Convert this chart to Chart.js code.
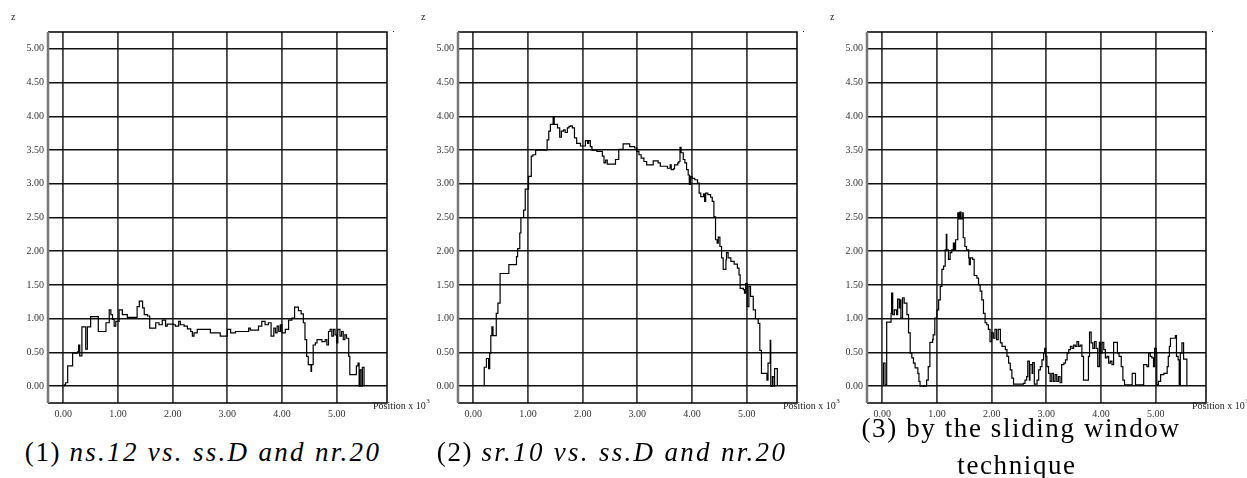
<!DOCTYPE html>
<html>
<head>
<meta charset="utf-8">
<script src="https://cdn.jsdelivr.net/npm/chart.js@4.4.1/dist/chart.umd.min.js"></script>
<style>
  body { margin: 0; background: #fff; width: 1247px; height: 478px; overflow: hidden; position: relative; }
  canvas { position: absolute; top: 0; }
  .cap { position: absolute; font-family: "Liberation Serif", serif; font-size: 27px; line-height: 27px;
         color: #000; white-space: nowrap; text-align: center; letter-spacing: 1.6px; }
  .cap i { letter-spacing: 2.3px; }
</style>
</head>
<body>
<canvas id="c1" width="450" height="430" style="left:0px"></canvas>
<canvas id="c2" width="450" height="430" style="left:410px"></canvas>
<canvas id="c3" width="450" height="430" style="left:819px"></canvas>

<div class="cap" style="left:3px;width:400px;top:439px">(1) <i>ns.12 vs. ss.D and nr.20</i></div>
<div class="cap" style="left:412px;width:400px;top:439px">(2) <i>sr.10 vs. ss.D and nr.20</i></div>
<div class="cap" style="left:821px;width:400px;top:415px">(3) by the sliding window</div>
<div class="cap" style="left:817px;width:400px;top:452px">technique</div>

<script>
// tick values
const xTicks = [0, 1, 2, 3, 4, 5];
const yTicks = [0, 0.5, 1, 1.5, 2, 2.5, 3, 3.5, 4, 4.5, 5];

// (1) ns.12 vs. ss.D and nr.20
const posA = [0.02, 0.02, 0.04, 0.08, 0.17, 0.26, 0.28, 0.30, 0.34, 0.41, 0.44, 0.50, 0.64, 0.78, 0.84, 0.87, 0.90, 0.93, 0.96,
  1.02, 1.08, 1.17, 1.35, 1.39, 1.45, 1.48, 1.54, 1.58, 1.69, 1.75, 1.81, 1.87, 1.90, 2.02, 2.05, 2.11, 2.14, 2.21, 2.27,
  2.33, 2.36, 2.39, 2.45, 2.69, 2.87, 3.00, 3.06, 3.15, 3.39, 3.42, 3.57, 3.63, 3.69, 3.75, 3.80, 3.85, 3.88, 3.91, 3.94,
  3.97, 4.00, 4.06, 4.12, 4.18, 4.23, 4.30, 4.35, 4.39, 4.42, 4.45, 4.48, 4.53, 4.54, 4.57, 4.61, 4.64, 4.73, 4.79, 4.82,
  4.85, 4.88, 4.91, 4.94, 4.97, 5.00, 5.02, 5.06, 5.09, 5.12, 5.15, 5.18, 5.22, 5.24, 5.36, 5.39, 5.41, 5.43, 5.46, 5.47, 5.50];
const zA = [0, 0.02, 0.05, 0.30, 0.49, 0.51, 0.61, 0.45, 0.88, 0.55, 0.88, 1.03, 0.81, 0.94, 1.13, 1.06, 0.99, 0.89, 0.96,
  1.13, 1.06, 1.02, 1.18, 1.26, 1.16, 1.06, 1.04, 0.86, 0.94, 0.91, 0.98, 0.89, 0.92, 0.91, 0.89, 0.96, 0.91, 0.89, 0.85,
  0.81, 0.74, 0.79, 0.84, 0.79, 0.74, 0.84, 0.79, 0.81, 0.86, 0.83, 0.89, 0.96, 0.91, 0.94, 0.74, 0.86, 0.79, 0.89, 0.81,
  0.91, 0.79, 0.84, 0.98, 1.01, 1.17, 1.12, 1.07, 0.94, 0.69, 0.44, 0.32, 0.22, 0.32, 0.61, 0.64, 0.69, 0.66, 0.69, 0.61,
  0.81, 0.84, 0.74, 0.84, 0.76, 0.64, 0.84, 0.74, 0.81, 0.69, 0.76, 0.71, 0.44, 0.17, 0.30, 0.34, 0, 0.24, 0, 0.28, 0];

// (2) sr.10 vs. ss.D and nr.20
const posB = [0.20, 0.20, 0.24, 0.28, 0.30, 0.32, 0.34, 0.36, 0.42, 0.45, 0.49, 0.65, 0.79, 0.81, 0.85, 0.87, 0.92, 0.95,
  1.01, 1.06, 1.09, 1.14, 1.35, 1.38, 1.41, 1.46, 1.48, 1.54, 1.58, 1.61, 1.65, 1.68, 1.72, 1.75, 1.78, 1.81, 1.85, 1.89,
  1.96, 2.05, 2.09, 2.11, 2.14, 2.17, 2.26, 2.36, 2.39, 2.42, 2.45, 2.60, 2.66, 2.74, 2.86, 2.95, 2.99, 3.03, 3.07, 3.12,
  3.17, 3.29, 3.38, 3.42, 3.55, 3.60, 3.62, 3.66, 3.68, 3.74, 3.76, 3.78, 3.80, 3.84, 3.87, 3.90, 3.93, 3.95, 3.97, 4.00,
  4.05, 4.10, 4.13, 4.16, 4.21, 4.23, 4.25, 4.29, 4.34, 4.37, 4.40, 4.43, 4.46, 4.48, 4.51, 4.54, 4.57, 4.62, 4.63, 4.66,
  4.71, 4.77, 4.83, 4.86, 4.88, 4.94, 4.96, 4.98, 5.01, 5.04, 5.07, 5.12, 5.16, 5.21, 5.24, 5.27, 5.37, 5.39, 5.43, 5.44,
  5.47, 5.50, 5.51, 5.56];
const zB = [0, 0.28, 0.41, 0.26, 0.49, 0.75, 0.88, 0.75, 1.08, 1.23, 1.67, 1.80, 1.92, 2.04, 2.27, 2.50, 2.61, 2.92,
  3.11, 3.41, 3.43, 3.50, 3.65, 3.78, 3.88, 3.98, 3.88, 3.83, 3.69, 3.78, 3.80, 3.76, 3.83, 3.85, 3.86, 3.83, 3.68, 3.60,
  3.56, 3.64, 3.60, 3.64, 3.55, 3.50, 3.48, 3.41, 3.31, 3.35, 3.29, 3.36, 3.51, 3.59, 3.55, 3.53, 3.48, 3.43, 3.38, 3.33,
  3.28, 3.34, 3.31, 3.26, 3.23, 3.28, 3.21, 3.22, 3.28, 3.31, 3.33, 3.54, 3.46, 3.36, 3.31, 3.21, 3.13, 2.99, 3.11, 3.08,
  3.06, 3.01, 2.86, 2.81, 2.85, 2.74, 2.86, 2.84, 2.80, 2.74, 2.51, 2.17, 2.12, 2.21, 2.07, 1.90, 1.73, 1.87, 1.98, 1.90,
  1.85, 1.81, 1.75, 1.65, 1.45, 1.43, 1.38, 1.52, 1.18, 1.48, 1.33, 1.13, 1.00, 0.93, 0.53, 0.19, 0.09, 0.34, 0.68, 0,
  0.14, 0, 0.26, 0];

// (3) by the sliding window technique
const posC = [0.02, 0.02, 0.05, 0.08, 0.16, 0.17, 0.19, 0.22, 0.26, 0.28, 0.31, 0.32, 0.34, 0.37, 0.40, 0.45, 0.48, 0.51,
  0.54, 0.57, 0.60, 0.65, 0.67, 0.69, 0.81, 0.84, 0.87, 0.92, 0.93, 0.96, 1.00, 1.03, 1.06, 1.09, 1.12, 1.15, 1.17, 1.18,
  1.21, 1.24, 1.27, 1.30, 1.32, 1.34, 1.38, 1.40, 1.42, 1.44, 1.47, 1.48, 1.51, 1.54, 1.58, 1.59, 1.61, 1.65, 1.68, 1.73,
  1.76, 1.79, 1.82, 1.85, 1.88, 1.91, 1.94, 1.97, 2.00, 2.03, 2.06, 2.09, 2.12, 2.16, 2.19, 2.25, 2.28, 2.31, 2.34, 2.37,
  2.40, 2.58, 2.61, 2.64, 2.66, 2.69, 2.70, 2.74, 2.75, 2.78, 2.83, 2.86, 2.89, 2.92, 2.95, 2.97, 2.99, 3.01, 3.04, 3.07,
  3.10, 3.13, 3.16, 3.19, 3.22, 3.25, 3.28, 3.32, 3.35, 3.38, 3.41, 3.44, 3.47, 3.50, 3.53, 3.56, 3.59, 3.62, 3.65, 3.68,
  3.77, 3.79, 3.82, 3.85, 3.88, 3.91, 3.94, 3.97, 3.99, 4.02, 4.05, 4.08, 4.11, 4.14, 4.17, 4.20, 4.23, 4.30, 4.33, 4.37,
  4.40, 4.43, 4.57, 4.63, 4.78, 4.84, 4.87, 4.90, 4.93, 4.96, 4.98, 5.01, 5.02, 5.05, 5.09, 5.15, 5.21, 5.23, 5.25, 5.27,
  5.36, 5.38, 5.41, 5.43, 5.45, 5.48, 5.51, 5.57];
const zC = [0, 0.34, 0.02, 0.95, 1.08, 1.38, 1.06, 1.13, 1.06, 1.29, 1.16, 1.28, 1.01, 1.31, 1.23, 1.06, 0.79, 0.49,
  0.42, 0.34, 0.27, 0.19, 0.07, 0, 0.09, 0.29, 0.65, 0.69, 0.76, 1.01, 1.13, 1.28, 1.48, 1.73, 1.78, 2.02, 2.25, 2.02,
  1.88, 1.98, 2.02, 2.12, 2.02, 2.17, 2.57, 2.48, 2.58, 2.48, 2.57, 2.20, 2.07, 2.02, 1.90, 1.80, 1.90, 1.88, 1.64, 1.60,
  1.50, 1.41, 1.28, 1.08, 0.94, 0.91, 0.84, 0.66, 0.79, 0.71, 0.84, 0.69, 0.84, 0.64, 0.59, 0.54, 0.44, 0.34, 0.24, 0.12,
  0.03, 0.04, 0.09, 0.14, 0.37, 0.09, 0.32, 0.19, 0.35, 0.03, 0.09, 0.24, 0.29, 0.39, 0.49, 0.56, 0.44, 0.29, 0.19, 0.07,
  0.19, 0.07, 0.17, 0.07, 0.14, 0.05, 0.32, 0.34, 0.39, 0.49, 0.54, 0.59, 0.56, 0.61, 0.59, 0.66, 0.59, 0.61, 0.44, 0.09,
  0.44, 0.80, 0.64, 0.56, 0.66, 0.56, 0.29, 0.65, 0.49, 0.65, 0.54, 0.42, 0.44, 0.34, 0.37, 0.32, 0.65, 0.49, 0.44, 0.29,
  0.09, 0.02, 0.19, 0.02, 0.32, 0.29, 0.49, 0.44, 0.42, 0.29, 0.56, 0.49, 0.02, 0.07, 0.17, 0.19, 0.29, 0.44, 0.59, 0.71,
  0.75, 0.44, 0.39, 0.02, 0.49, 0.64, 0.40, 0];

const serif = '"Liberation Serif", "Times New Roman", serif';

// frame, "z" label, "Position x 10^3"
const decor = {
  id: 'decor',
  beforeDatasetsDraw(chart) {
    const { ctx, chartArea: a } = chart;
    ctx.save();
    ctx.strokeStyle = '#000';
    ctx.lineWidth = 1.5;
    ctx.beginPath();
    ctx.moveTo(a.left, a.top); ctx.lineTo(a.right, a.top); ctx.lineTo(a.right, a.bottom); ctx.lineTo(a.left, a.bottom);
    ctx.stroke();
    ctx.strokeStyle = '#777';
    ctx.lineWidth = 2.5;
    ctx.beginPath();
    ctx.moveTo(a.left, a.top); ctx.lineTo(a.left, a.bottom);
    ctx.stroke();
    ctx.restore();
  },
  afterDraw(chart) {
    const { ctx, chartArea: a } = chart;
    ctx.save();
    ctx.fillStyle = '#222';
    ctx.font = '10px ' + serif;
    ctx.textBaseline = 'middle';
    ctx.fillText('z', a.left - 37, 17);
    ctx.textBaseline = 'alphabetic';
    ctx.fillText('Position x 10', a.right - 14, a.bottom + 6);
    const w = ctx.measureText('Position x 10').width;
    ctx.font = '7px ' + serif;
    ctx.fillText('3', a.right - 14 + w + 0.5, a.bottom);
    ctx.fillRect(a.right + 6, a.top - 1, 1, 1);
    ctx.restore();
  }
};

function panel(id, pos, z) {
  const pts = pos.map((p, i) => ({ x: p, y: z[i] }));
  new Chart(document.getElementById(id), {
    type: 'line',
    data: { datasets: [{ data: pts, stepped: true, borderColor: '#000', borderWidth: 1.2, pointRadius: 0, fill: false }] },
    options: {
      responsive: false,
      animation: false,
      layout: { padding: { top: 32, right: 63, left: 0, bottom: 0 } },
      plugins: { legend: { display: false }, tooltip: { enabled: false } },
      scales: {
        x: {
          type: 'linear', min: -0.28, max: 5.92,
          afterBuildTicks: s => { s.ticks = xTicks.map(v => ({ value: v })); },
          afterFit: s => { s.height = 27; },
          border: { display: false },
          grid: { color: '#444', lineWidth: 1.8, drawTicks: false },
          ticks: { callback: v => v.toFixed(2), color: '#333', font: { family: serif, size: 10 }, padding: 5, maxRotation: 0, autoSkip: false }
        },
        y: {
          min: -0.25, max: 5.25,
          afterBuildTicks: s => { s.ticks = yTicks.map(v => ({ value: v })); },
          afterFit: s => { s.width = 48; },
          border: { display: false },
          grid: { color: '#111', lineWidth: 1.5, drawTicks: false },
          ticks: { callback: v => v.toFixed(2), color: '#333', font: { family: serif, size: 10 }, padding: 4, autoSkip: false }
        }
      }
    },
    plugins: [decor]
  });
}

panel('c1', posA, zA);
panel('c2', posB, zB);
panel('c3', posC, zC);
</script>
</body>
</html>
